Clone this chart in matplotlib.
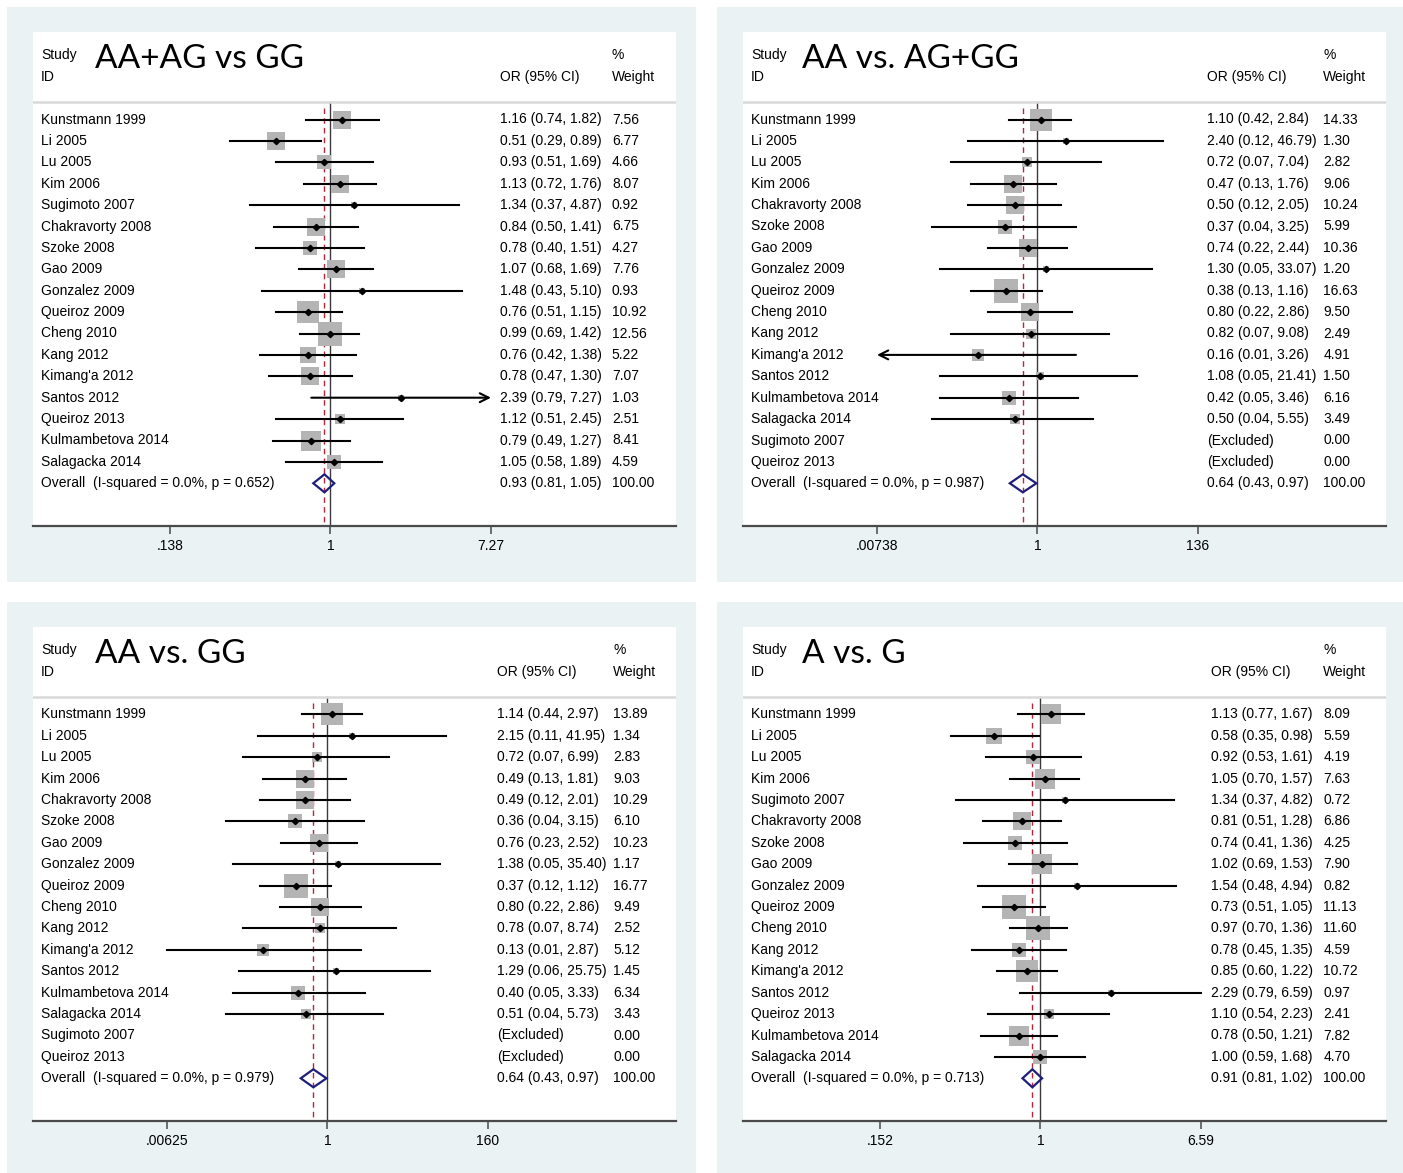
import numpy as np
import matplotlib
matplotlib.use("Agg")
import matplotlib.pyplot as plt
from matplotlib.patches import Rectangle, Polygon
from matplotlib.ticker import NullLocator
from matplotlib.transforms import blended_transform_factory

plt.rcParams["font.family"] = ["Liberation Sans", "DejaVu Sans"]

# --------------------------
# Data
# --------------------------
nan = np.nan

title1 = "AA+AG vs GG"
studies1 = ["Kunstmann 1999", "Li 2005", "Lu 2005", "Kim 2006", "Sugimoto 2007",
            "Chakravorty 2008", "Szoke 2008", "Gao 2009", "Gonzalez 2009",
            "Queiroz 2009", "Cheng 2010", "Kang 2012", "Kimang'a 2012",
            "Santos 2012", "Queiroz 2013", "Kulmambetova 2014", "Salagacka 2014"]
or1 = [1.16, 0.51, 0.93, 1.13, 1.34, 0.84, 0.78, 1.07, 1.48, 0.76, 0.99, 0.76, 0.78, 2.39, 1.12, 0.79, 1.05]
lo1 = [0.74, 0.29, 0.51, 0.72, 0.37, 0.50, 0.40, 0.68, 0.43, 0.51, 0.69, 0.42, 0.47, 0.79, 0.51, 0.49, 0.58]
hi1 = [1.82, 0.89, 1.69, 1.76, 4.87, 1.41, 1.51, 1.69, 5.10, 1.15, 1.42, 1.38, 1.30, 7.274, 2.45, 1.27, 1.89]
w1 = [7.56, 6.77, 4.66, 8.07, 0.92, 6.75, 4.27, 7.76, 0.93, 10.92, 12.56, 5.22, 7.07, 1.03, 2.51, 8.41, 4.59]
overall1 = [0.93, 0.81, 1.05]
het1 = "I-squared = 0.0%, p = 0.652"
ticks1 = [0.138, 1, 7.27]
ticklabels1 = [".138", "1", "7.27"]

title2 = "AA vs. AG+GG"
studies2 = ["Kunstmann 1999", "Li 2005", "Lu 2005", "Kim 2006", "Chakravorty 2008",
            "Szoke 2008", "Gao 2009", "Gonzalez 2009", "Queiroz 2009", "Cheng 2010",
            "Kang 2012", "Kimang'a 2012", "Santos 2012", "Kulmambetova 2014",
            "Salagacka 2014", "Sugimoto 2007", "Queiroz 2013"]
or2 = [1.10, 2.40, 0.72, 0.47, 0.50, 0.37, 0.74, 1.30, 0.38, 0.80, 0.82, 0.16, 1.08, 0.42, 0.50, nan, nan]
lo2 = [0.42, 0.12, 0.07, 0.13, 0.12, 0.04, 0.22, 0.05, 0.13, 0.22, 0.07, 0.006, 0.05, 0.05, 0.04, nan, nan]
hi2 = [2.84, 46.79, 7.04, 1.76, 2.05, 3.25, 2.44, 33.07, 1.16, 2.86, 9.08, 3.26, 21.41, 3.46, 5.55, nan, nan]
w2 = [14.33, 1.30, 2.82, 9.06, 10.24, 5.99, 10.36, 1.20, 16.63, 9.50, 2.49, 4.91, 1.50, 6.16, 3.49, 0.00, 0.00]
overall2 = [0.64, 0.43, 0.97]
het2 = "I-squared = 0.0%, p = 0.987"
ticks2 = [0.00738, 1, 136]
ticklabels2 = [".00738", "1", "136"]

title3 = "AA vs. GG"
studies3 = studies2
or3 = [1.14, 2.15, 0.72, 0.49, 0.49, 0.36, 0.76, 1.38, 0.37, 0.80, 0.78, 0.13, 1.29, 0.40, 0.51, nan, nan]
lo3 = [0.44, 0.11, 0.07, 0.13, 0.12, 0.04, 0.23, 0.05, 0.12, 0.22, 0.07, 0.00625, 0.06, 0.05, 0.04, nan, nan]
hi3 = [2.97, 41.95, 6.99, 1.81, 2.01, 3.15, 2.52, 35.40, 1.12, 2.86, 8.74, 2.87, 25.75, 3.33, 5.73, nan, nan]
w3 = [13.89, 1.34, 2.83, 9.03, 10.29, 6.10, 10.23, 1.17, 16.77, 9.49, 2.52, 5.12, 1.45, 6.34, 3.43, 0.00, 0.00]
overall3 = [0.64, 0.43, 0.97]
het3 = "I-squared = 0.0%, p = 0.979"
ticks3 = [0.00625, 1, 160]
ticklabels3 = [".00625", "1", "160"]

title4 = "A vs. G"
studies4 = studies1
or4 = [1.13, 0.58, 0.92, 1.05, 1.34, 0.81, 0.74, 1.02, 1.54, 0.73, 0.97, 0.78, 0.85, 2.29, 1.10, 0.78, 1.00]
lo4 = [0.77, 0.35, 0.53, 0.70, 0.37, 0.51, 0.41, 0.69, 0.48, 0.51, 0.70, 0.45, 0.60, 0.79, 0.54, 0.50, 0.59]
hi4 = [1.67, 0.98, 1.61, 1.57, 4.82, 1.28, 1.36, 1.53, 4.94, 1.05, 1.36, 1.35, 1.22, 6.59, 2.23, 1.21, 1.68]
w4 = [8.09, 5.59, 4.19, 7.63, 0.72, 6.86, 4.25, 7.90, 0.82, 11.13, 11.60, 4.59, 10.72, 0.97, 2.41, 7.82, 4.70]
overall4 = [0.91, 0.81, 1.02]
het4 = "I-squared = 0.0%, p = 0.713"
ticks4 = [0.152, 1, 6.59]
ticklabels4 = [".152", "1", "6.59"]

# --------------------------
# Layout (pixels in the 1403x1173 image)
# --------------------------
W, H = 1403, 1173
BG = "#eaf2f3"
ROW0, ROWH = 119.5, 21.4     # first study row and row spacing (top panels)
BOX_MAX = 23.5               # side of the biggest weight box, px
TEXT_FS = 10.0

fig = plt.figure(figsize=(W / 100, H / 100), dpi=100)
fig.patch.set_facecolor("white")


def px_rect(x0, y0, x1, y1):
    return [x0 / W, 1 - y1 / H, (x1 - x0) / W, (y1 - y0) / H]


def draw_panel(px, py, title, studies, est, lo, hi, w, overall, het,
               ticks, ticklabels, f_lo, f_hi, col_or, col_w, title_x):
    # light blue-gray frame + white plot area
    x0, y0 = 7 + px, 7 + py
    bw = 689 if px == 0 else 690
    fig.patches.append(Rectangle((x0 / W, 1 - (y0 + 575) / H), bw / W, 575 / H,
                                 transform=fig.transFigure, facecolor=BG,
                                 edgecolor="none", zorder=-5))
    ax = fig.add_axes(px_rect(33 + px, 32 + py, 675.5 + px, 525.5 + py))
    ax.set_zorder(1)
    ax.set_facecolor("white")
    for s in ["top", "left", "right"]:
        ax.spines[s].set_visible(False)
    ax.spines["bottom"].set_color("#4a4a4a")
    ax.spines["bottom"].set_linewidth(1.6)

    r_top = (32 - ROW0) / ROWH
    r_bot = (525.5 - ROW0) / ROWH
    L, Hh = np.log(ticks[0]), np.log(ticks[-1])
    slope = (Hh - L) / (f_hi - f_lo)
    ax.set_xscale("log")
    ax.set_xlim(np.exp(L - f_lo * slope), np.exp(L + (1 - f_lo) * slope))
    ax.set_ylim(r_bot, r_top)
    ax.set_yticks([])
    ax.set_xticks(ticks)
    ax.set_xticklabels(ticklabels, fontsize=TEXT_FS)
    ax.xaxis.set_minor_locator(NullLocator())
    ax.tick_params(axis="x", direction="out", length=6, width=1.1, color="#4a4a4a", pad=4)

    tr = blended_transform_factory(ax.transAxes, ax.transData)
    sep = (102 - ROW0) / ROWH

    # header
    ax.text(0.0125, -3, "Study", transform=tr, fontsize=TEXT_FS, va="center")
    ax.text(0.0125, -2, "ID", transform=tr, fontsize=TEXT_FS, va="center")
    ax.text(col_or, -2, "OR (95% CI)", transform=tr, fontsize=TEXT_FS, va="center")
    ax.text(col_w, -3, "%", transform=tr, fontsize=TEXT_FS, va="center")
    ax.text(col_w, -2, "Weight", transform=tr, fontsize=TEXT_FS, va="center")
    ax.text(title_x, -2.85, title, transform=tr, fontsize=24, va="center",
            family=["Lato", "DejaVu Sans"])
    ax.axhline(sep, color="#d9d9d9", lw=1.8)

    # reference lines
    ax.plot([1, 1], [sep, r_bot], color="#3a3a3a", lw=1.0, zorder=1)
    ax.plot([overall[0], overall[0]], [sep + 0.3, r_bot], color="#b5283a", lw=1.0,
            dashes=(4, 3), zorder=1)

    est = np.array(est, dtype=float)
    lo = np.array(lo, dtype=float)
    hi = np.array(hi, dtype=float)
    w = np.array(w, dtype=float)
    side = BOX_MAX * np.sqrt(w / w.max()) * 0.72
    rows = np.arange(len(studies))

    for i in rows:
        ax.text(0.0125, i, studies[i], transform=tr, fontsize=TEXT_FS, va="center")
        ax.text(col_w, i, f"{w[i]:.2f}", transform=tr, fontsize=TEXT_FS, va="center")
        if np.isnan(est[i]):
            ax.text(col_or, i, "(Excluded)", transform=tr, fontsize=TEXT_FS, va="center")
            continue
        ax.text(col_or, i, f"{est[i]:.2f} ({lo[i]:.2f}, {hi[i]:.2f})", transform=tr,
                fontsize=TEXT_FS, va="center")
        ax.scatter(est[i], i, s=side[i] ** 2, marker="s", color="#b4b4b4",
                   linewidths=0, zorder=2)
        a = max(lo[i], ticks[0])
        b = min(hi[i], ticks[-1])
        if hi[i] > ticks[-1]:
            ax.annotate("", xy=(b, i), xytext=(a, i),
                        arrowprops=dict(arrowstyle="->", lw=1.5, color="black",
                                        shrinkA=0, shrinkB=0, mutation_scale=16), zorder=3)
        elif lo[i] < ticks[0]:
            ax.annotate("", xy=(a, i), xytext=(b, i),
                        arrowprops=dict(arrowstyle="->", lw=1.5, color="black",
                                        shrinkA=0, shrinkB=0, mutation_scale=16), zorder=3)
        else:
            ax.plot([a, b], [i, i], color="black", lw=1.5, zorder=3)
        ax.plot(est[i], i, marker="D", ms=3.2, color="black", zorder=4)

    # overall diamond
    k = len(studies)
    e, l, h = overall
    hh = 9 / ROWH
    ax.add_patch(Polygon([[l, k], [e, k - hh], [h, k], [e, k + hh]], closed=True,
                         facecolor="none", edgecolor="#1f1f7a", lw=1.6, zorder=4))
    ax.text(0.0125, k, "Overall  (" + het + ")", transform=tr, fontsize=TEXT_FS, va="center")
    ax.text(col_or, k, f"{e:.2f} ({l:.2f}, {h:.2f})", transform=tr, fontsize=TEXT_FS, va="center")
    ax.text(col_w, k, "100.00", transform=tr, fontsize=TEXT_FS, va="center")
    return ax


# --------------------------
# Four panels
# --------------------------
draw_panel(0, 0, title1, studies1, or1, lo1, hi1, w1, overall1, het1,
           ticks1, ticklabels1, 0.2132, 0.7128, 0.727, 0.901, 0.0965)
draw_panel(710, 0, title2, studies2, or2, lo2, hi2, w2, overall2, het2,
           ticks2, ticklabels2, 0.2086, 0.708, 0.722, 0.903, 0.0918)
draw_panel(0, 595, title3, studies3, or3, lo3, hi3, w3, overall3, het3,
           ticks3, ticklabels3, 0.2086, 0.708, 0.722, 0.903, 0.0965)
draw_panel(710, 595, title4, studies4, or4, lo4, hi4, w4, overall4, het4,
           ticks4, ticklabels4, 0.2132, 0.7128, 0.728, 0.903, 0.0918)

fig.savefig("out.png", dpi=100, facecolor=fig.get_facecolor())
